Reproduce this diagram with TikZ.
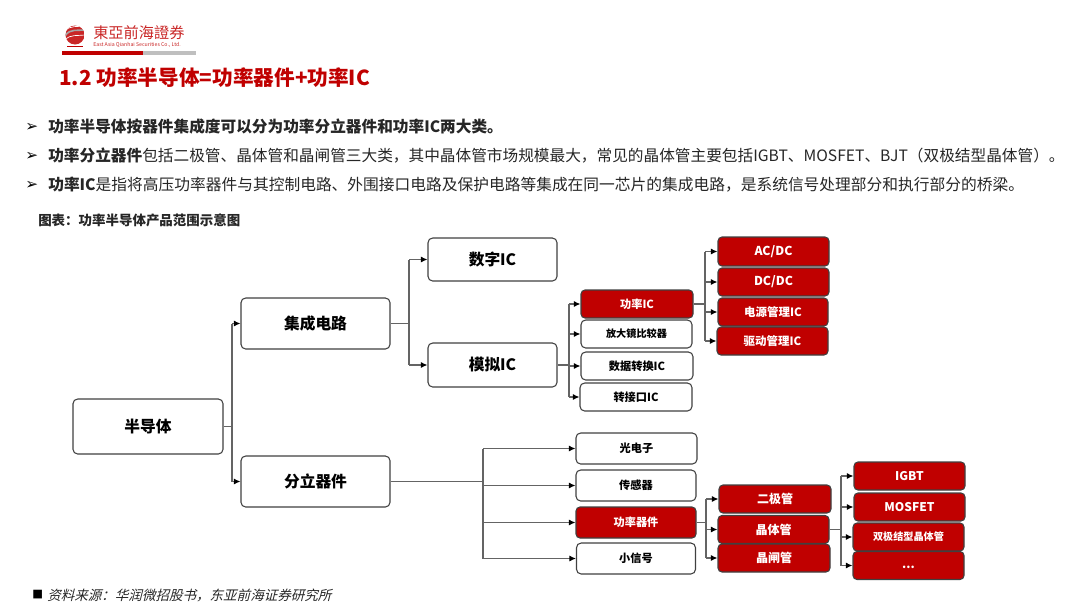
\documentclass[tikz,border=0pt]{standalone}
\usepackage{fontspec}
\setmainfont{Noto Sans CJK SC}
\newfontfamily\slantfont[FakeSlant=0.25]{Noto Sans CJK SC}
\newfontfamily\symbolfont{DejaVu Sans}
\usetikzlibrary{arrows.meta}
\definecolor{darkred}{RGB}{192,0,0}
\definecolor{inkgray}{RGB}{38,38,38}
\definecolor{edgegray}{RGB}{64,64,64}
\definecolor{wiregray}{RGB}{100,100,100}
\tikzset{
  boxsize/.style 2 args={minimum width=#1*0.75pt,minimum height=#2*0.75pt},
  plainbox/.style={draw=edgegray,line width=0.8pt,rounded corners=3.5pt,fill=white,text=black,inner sep=0pt,font=\bfseries},
  redbox/.style={draw=edgegray,line width=0.8pt,rounded corners=3pt,fill=darkred,text=white,inner sep=0pt,font=\bfseries},
  wire/.style={draw=wiregray,line width=0.85pt},
  link/.style={wire,-{Latex[length=5pt,width=4.6pt,black]}},
  textline/.style={anchor=west,inner sep=0pt,text=inkgray},
}
\begin{document}
\begin{tikzpicture}[x=0.75pt,y=0.75pt,yscale=-1,xscale=1]
    \useasboundingbox (0,0) rectangle (1080,607);

    %Shape: Logo
    \begin{scope}
    \clip (75,35) circle (9.5);
    \fill[darkred!85] (65,25) rectangle (85,45);
    \draw[gray!70,line width=1.2pt] (65,36) .. controls (70,28) and (78,31) .. (85,30);
    \draw[white,line width=0.5pt] (65,40) .. controls (70,34) and (78,36) .. (85,35);
    \draw[white,line width=0.5pt] (65,31) .. controls (70,25) and (78,27) .. (85,26);
    \end{scope}
    \draw[darkred,line width=0.5pt] (67,46.5) -- (83,46.5);
    %Shape: Rule under logo
    \fill[darkred] (62,51) rectangle (143,55);
    \fill[gray!50] (143,51) rectangle (196,55);

    % Text Node
    \node[textline,text=darkred!85] (brand) at (93,33) {\fontsize{11.4pt}{13pt}\selectfont 東亞前海證券};
    \node[textline,text=darkred!85] (brandsub) at (93,45) {\fontsize{3.9pt}{5pt}\selectfont East Asia Qianhai Securities Co., Ltd.};
    \node[textline,text=darkred] (title) at (59,78) {\fontsize{15.5pt}{18pt}\selectfont\bfseries 1.2 功率半导体=功率器件+功率IC};

    % Text Node
    \node[textline,text=black] (marka) at (25,127) {\fontsize{11.5pt}{12pt}\selectfont\symbolfont ➢};
    \node[textline,text=black] (markb) at (25,156) {\fontsize{11.5pt}{12pt}\selectfont\symbolfont ➢};
    \node[textline,text=black] (markc) at (25,185) {\fontsize{11.5pt}{12pt}\selectfont\symbolfont ➢};
    \node[textline] (linea) at (48,127) {\fontsize{11.75pt}{14pt}\selectfont\bfseries 功率半导体按器件集成度可以分为功率分立器件和功率IC两大类。};
    \node[textline] (lineb) at (48,156) {\fontsize{11.75pt}{14pt}\selectfont{\bfseries 功率分立器件}包括二极管、晶体管和晶闸管三大类，其中晶体管市场规模最大，常见的晶体管主要包括IGBT、MOSFET、BJT（双极结型晶体管）。};
    \node[textline] (linec) at (48,185) {\fontsize{11.8pt}{14pt}\selectfont{\bfseries 功率IC}是指将高压功率器件与其控制电路、外围接口电路及保护电路等集成在同一芯片的集成电路，是系统信号处理部分和执行部分的桥梁。};
    \node[textline] (caption) at (38,220) {\fontsize{10.1pt}{13pt}\selectfont\bfseries 图表：功率半导体产品范围示意图};

    %Shape: Boxes, first levels
    \node[plainbox,boxsize={150}{55},font=\fontsize{11.8pt}{14pt}\selectfont\bfseries] (semi) at (148,426.5) {半导体};
    \node[plainbox,boxsize={149}{51},font=\fontsize{11.8pt}{14pt}\selectfont\bfseries] (ic) at (315.5,323.5) {集成电路};
    \node[plainbox,boxsize={149}{51},font=\fontsize{11.8pt}{14pt}\selectfont\bfseries] (disc) at (315.5,481.5) {分立器件};
    \node[plainbox,boxsize={129}{43},font=\fontsize{11.8pt}{14pt}\selectfont\bfseries] (digital) at (492.5,259.5) {数字IC};
    \node[plainbox,boxsize={129}{44},font=\fontsize{11.8pt}{14pt}\selectfont\bfseries] (analog) at (492.5,365) {模拟IC};

    %Shape: Boxes, analog side
    \node[redbox,boxsize={112}{28},font=\fontsize{8.4pt}{10pt}\selectfont\bfseries] (powic) at (637,304) {功率IC};
    \node[plainbox,boxsize={111}{28},font=\fontsize{7.6pt}{10pt}\selectfont\bfseries] (amp) at (636.5,334) {放大镜比较器};
    \node[plainbox,boxsize={112}{28},font=\fontsize{8.4pt}{10pt}\selectfont\bfseries] (conv) at (637,366) {数据转换IC};
    \node[plainbox,boxsize={112}{28},font=\fontsize{8.4pt}{10pt}\selectfont\bfseries] (iface) at (636,397) {转接口IC};
    \node[redbox,boxsize={111}{29},font=\fontsize{9.2pt}{11pt}\selectfont\bfseries] (acdc) at (773.5,251.5) {AC/DC};
    \node[redbox,boxsize={111}{28},font=\fontsize{9.2pt}{11pt}\selectfont\bfseries] (dcdc) at (773.5,282) {DC/DC};
    \node[redbox,boxsize={110}{28},font=\fontsize{8.6pt}{10pt}\selectfont\bfseries] (pmic) at (773,312) {电源管理IC};
    \node[redbox,boxsize={111}{28},font=\fontsize{8.6pt}{10pt}\selectfont\bfseries] (drv) at (772.5,341) {驱动管理IC};

    %Shape: Boxes, discrete side
    \node[plainbox,boxsize={121}{31},font=\fontsize{8.4pt}{10pt}\selectfont\bfseries] (opto) at (636.5,448.5) {光电子};
    \node[plainbox,boxsize={120}{31},font=\fontsize{8.4pt}{10pt}\selectfont\bfseries] (sensor) at (636,485.5) {传感器};
    \node[redbox,boxsize={120}{31},font=\fontsize{8.4pt}{10pt}\selectfont\bfseries] (powdev) at (636,522.5) {功率器件};
    \node[plainbox,boxsize={119}{31},font=\fontsize{8.4pt}{10pt}\selectfont\bfseries] (small) at (636,558.5) {小信号};
    \node[redbox,boxsize={112}{28},font=\fontsize{9pt}{11pt}\selectfont\bfseries] (diode) at (775,499) {二极管};
    \node[redbox,boxsize={111}{28},font=\fontsize{9pt}{11pt}\selectfont\bfseries] (trans) at (773.5,529.5) {晶体管};
    \node[redbox,boxsize={112}{28},font=\fontsize{9pt}{11pt}\selectfont\bfseries] (thyr) at (774,558) {晶闸管};
    \node[redbox,boxsize={111}{28},font=\fontsize{9pt}{11pt}\selectfont\bfseries] (igbt) at (909.5,476) {IGBT};
    \node[redbox,boxsize={111}{28},font=\fontsize{9pt}{11pt}\selectfont\bfseries] (mosfet) at (909.5,507) {MOSFET};
    \node[redbox,boxsize={111}{28},font=\fontsize{7.6pt}{10pt}\selectfont\bfseries] (bjt) at (908.5,537) {双极结型晶体管};
    \node[redbox,boxsize={111}{28},font=\fontsize{9pt}{11pt}\selectfont\bfseries] (more) at (908.5,565.5) {\raisebox{-2.5pt}[0pt][0pt]{...}};

    %Shape: Bend points of the connectors
    \coordinate (busa) at (232,426.5);
    \coordinate (busb) at (409,323.5);
    \coordinate (busc) at (569,365);
    \coordinate (busd) at (705,304);
    \coordinate (buse) at (483,481.5);
    \coordinate (busf) at (706,522.5);
    \coordinate (busg) at (841,529.5);

    %Straight Lines
    \draw[wire] (semi.east) -- (busa);
    \draw[wire] (busa |- ic.west) -- (busa |- disc.west);
    \draw[link] (busa |- ic.west) -- (ic.west);
    \draw[link] (busa |- disc.west) -- (disc.west);

    \draw[wire] (ic.east) -- (busb);
    \draw[wire] (busb |- digital.west) -- (busb |- analog.west);
    \draw[link] (busb |- digital.west) -- (digital.west);
    \draw[link] (busb |- analog.west) -- (analog.west);

    \draw[wire] (analog.east) -- (busc);
    \draw[wire] (busc |- powic.west) -- (busc |- iface.west);
    \draw[link] (busc |- powic.west) -- (powic.west);
    \draw[link] (busc |- amp.west) -- (amp.west);
    \draw[link] (busc |- conv.west) -- (conv.west);
    \draw[link] (busc |- iface.west) -- (iface.west);

    \draw[wire] (powic.east) -- (busd);
    \draw[wire] (busd |- acdc.west) -- (busd |- drv.west);
    \draw[link] (busd |- acdc.west) -- (acdc.west);
    \draw[link] (busd |- dcdc.west) -- (dcdc.west);
    \draw[link] (busd |- pmic.west) -- (pmic.west);
    \draw[link] (busd |- drv.west) -- (drv.west);

    \draw[wire] (disc.east) -- (buse);
    \draw[wire] (buse |- opto.west) -- (buse |- small.west);
    \draw[link] (buse |- opto.west) -- (opto.west);
    \draw[link] (buse |- sensor.west) -- (sensor.west);
    \draw[link] (buse |- powdev.west) -- (powdev.west);
    \draw[link] (buse |- small.west) -- (small.west);

    \draw[wire] (powdev.east) -- (busf);
    \draw[wire] (busf |- diode.west) -- (busf |- thyr.west);
    \draw[link] (busf |- diode.west) -- (diode.west);
    \draw[link] (busf |- trans.west) -- (trans.west);
    \draw[link] (busf |- thyr.west) -- (thyr.west);

    \draw[wire] (trans.east) -- (busg);
    \draw[wire] (busg |- igbt.west) -- (busg |- more.west);
    \draw[link] (busg |- igbt.west) -- (igbt.west);
    \draw[link] (busg |- mosfet.west) -- (mosfet.west);
    \draw[link] (busg |- bjt.west) -- (bjt.west);
    \draw[link] (busg |- more.west) -- (more.west);

    % Text Node
    \node[textline,text=black] (srcmark) at (32,595) {\fontsize{8.5pt}{10pt}\selectfont\symbolfont ■};
    \node[textline] (source) at (47,595) {\fontsize{10.15pt}{13pt}\selectfont\slantfont 资料来源：华润微招股书，东亚前海证券研究所};
\end{tikzpicture}
\end{document}
